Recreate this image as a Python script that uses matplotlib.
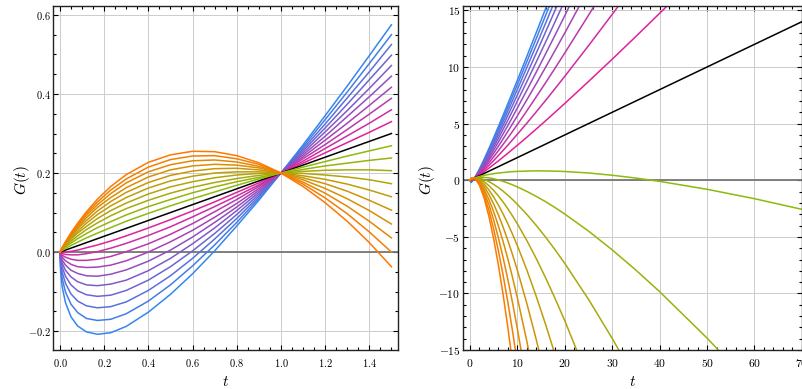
import matplotlib
matplotlib.use('Agg')
import matplotlib.pyplot as plt
from matplotlib.ticker import MultipleLocator, FormatStrFormatter

plt.rcParams['font.family'] = 'serif'
plt.rcParams['font.serif'] = ['cmr10', 'DejaVu Serif']
plt.rcParams['mathtext.fontset'] = 'cm'
plt.rcParams['axes.formatter.use_mathtext'] = True

# ---- left panel: short times ----
t_short = [0, 0.003, 0.01, 0.025, 0.05, 0.08, 0.12, 0.17, 0.23, 0.3, 0.4,
           0.5, 0.6, 0.7, 0.8, 0.9, 1.0, 1.1, 1.2, 1.3, 1.4, 1.5]

G_short = [
    [0, -0.051, -0.088, -0.128, -0.164, -0.187, -0.202, -0.208, -0.204, -0.188, -0.152, -0.107, -0.055, 0.003, 0.066, 0.131, 0.2, 0.271, 0.345, 0.420, 0.497, 0.575],
    [0, -0.037, -0.067, -0.101, -0.132, -0.153, -0.168, -0.173, -0.170, -0.156, -0.124, -0.083, -0.035, 0.018, 0.075, 0.136, 0.2, 0.266, 0.335, 0.405, 0.477, 0.550],
    [0, -0.027, -0.051, -0.079, -0.106, -0.124, -0.136, -0.141, -0.138, -0.126, -0.097, -0.060, -0.016, 0.033, 0.085, 0.141, 0.2, 0.261, 0.324, 0.390, 0.456, 0.525],
    [0, -0.019, -0.038, -0.061, -0.083, -0.098, -0.108, -0.112, -0.109, -0.097, -0.071, -0.037, 0.003, 0.047, 0.095, 0.146, 0.2, 0.256, 0.314, 0.374, 0.436, 0.498],
    [0, -0.014, -0.028, -0.046, -0.063, -0.075, -0.083, -0.085, -0.081, -0.071, -0.047, -0.016, 0.021, 0.061, 0.105, 0.151, 0.2, 0.251, 0.304, 0.358, 0.414, 0.472],
    [0, -0.009, -0.020, -0.033, -0.046, -0.054, -0.060, -0.061, -0.056, -0.045, -0.023, 0.005, 0.038, 0.075, 0.114, 0.156, 0.2, 0.246, 0.293, 0.343, 0.393, 0.445],
    [0, -0.006, -0.013, -0.022, -0.031, -0.037, -0.039, -0.038, -0.033, -0.022, -0.000, 0.026, 0.055, 0.088, 0.123, 0.161, 0.2, 0.241, 0.283, 0.326, 0.371, 0.417],
    [0, -0.004, -0.008, -0.013, -0.018, -0.021, -0.021, -0.018, -0.011, 0.001, 0.021, 0.045, 0.072, 0.102, 0.133, 0.166, 0.2, 0.236, 0.272, 0.310, 0.349, 0.389],
    [0, -0.002, -0.004, -0.006, -0.007, -0.007, -0.004, 0.001, 0.010, 0.022, 0.042, 0.064, 0.089, 0.115, 0.142, 0.170, 0.2, 0.230, 0.262, 0.294, 0.326, 0.360],
    [0, -0.000, -0.001, -0.000, 0.002, 0.005, 0.011, 0.018, 0.028, 0.041, 0.061, 0.082, 0.104, 0.127, 0.151, 0.175, 0.2, 0.225, 0.251, 0.277, 0.303, 0.330],
    [0, 0.0006, 0.002, 0.005, 0.010, 0.016, 0.024, 0.034, 0.046, 0.060, 0.080, 0.100, 0.120, 0.140, 0.160, 0.180, 0.2, 0.220, 0.240, 0.260, 0.280, 0.300],
    [0, 0.001, 0.004, 0.009, 0.017, 0.025, 0.036, 0.048, 0.062, 0.078, 0.098, 0.117, 0.135, 0.152, 0.169, 0.185, 0.2, 0.215, 0.229, 0.243, 0.256, 0.269],
    [0, 0.002, 0.006, 0.013, 0.023, 0.034, 0.047, 0.062, 0.077, 0.094, 0.115, 0.133, 0.150, 0.165, 0.178, 0.189, 0.2, 0.209, 0.218, 0.225, 0.232, 0.238],
    [0, 0.002, 0.007, 0.016, 0.028, 0.041, 0.057, 0.074, 0.092, 0.110, 0.131, 0.149, 0.164, 0.176, 0.186, 0.194, 0.2, 0.204, 0.207, 0.208, 0.208, 0.206],
    [0, 0.003, 0.008, 0.018, 0.033, 0.048, 0.065, 0.085, 0.105, 0.124, 0.147, 0.165, 0.178, 0.188, 0.195, 0.199, 0.2, 0.199, 0.195, 0.190, 0.183, 0.173],
    [0, 0.003, 0.009, 0.020, 0.036, 0.053, 0.073, 0.095, 0.117, 0.138, 0.162, 0.180, 0.192, 0.200, 0.203, 0.203, 0.2, 0.193, 0.184, 0.172, 0.157, 0.140],
    [0, 0.003, 0.009, 0.022, 0.040, 0.059, 0.080, 0.104, 0.128, 0.151, 0.176, 0.194, 0.205, 0.211, 0.212, 0.208, 0.2, 0.188, 0.173, 0.154, 0.131, 0.106],
    [0, 0.003, 0.010, 0.023, 0.042, 0.063, 0.087, 0.113, 0.138, 0.163, 0.190, 0.208, 0.218, 0.222, 0.220, 0.213, 0.2, 0.183, 0.161, 0.135, 0.105, 0.071],
    [0, 0.003, 0.010, 0.024, 0.045, 0.067, 0.093, 0.120, 0.148, 0.175, 0.203, 0.221, 0.231, 0.233, 0.228, 0.217, 0.2, 0.177, 0.149, 0.116, 0.078, 0.036],
    [0, 0.003, 0.011, 0.025, 0.047, 0.070, 0.098, 0.127, 0.157, 0.185, 0.215, 0.234, 0.243, 0.244, 0.236, 0.222, 0.2, 0.172, 0.137, 0.097, 0.051, -0.000],
    [0, 0.003, 0.011, 0.026, 0.049, 0.073, 0.102, 0.134, 0.166, 0.196, 0.227, 0.246, 0.255, 0.254, 0.244, 0.226, 0.2, 0.166, 0.125, 0.078, 0.024, -0.037],
]

# ---- right panel: long times (each curve stops once it leaves the frame) ----
t_long = [0, 0.25, 1, 2, 3, 4, 5, 6, 7, 8, 9, 10, 12, 14, 16, 18, 20,
          25, 30, 35, 40, 50, 60, 70]

G_long = [
    [0, -0.2, 0.2, 0.99, 1.87, 2.8, 3.76, 4.75, 5.75, 6.77, 7.8, 8.84, 10.94, 13.06, 15.2, 17.36],
    [0, -0.17, 0.2, 0.94, 1.77, 2.66, 3.58, 4.52, 5.48, 6.46, 7.45, 8.45, 10.48, 12.53, 14.61, 16.7],
    [0, -0.14, 0.2, 0.88, 1.67, 2.5, 3.37, 4.27, 5.19, 6.12, 7.06, 8.02, 9.96, 11.93, 13.92, 15.94],
    [0, -0.11, 0.2, 0.83, 1.56, 2.34, 3.15, 4.0, 4.86, 5.74, 6.63, 7.53, 9.37, 11.24, 13.14, 15.06, 16.99],
    [0, -0.08, 0.2, 0.78, 1.44, 2.16, 2.91, 3.7, 4.5, 5.31, 6.14, 6.99, 8.71, 10.46, 12.24, 14.04, 15.86],
    [0, -0.05, 0.2, 0.72, 1.32, 1.97, 2.66, 3.37, 4.1, 4.84, 5.6, 6.38, 7.95, 9.56, 11.2, 12.86, 14.54, 18.82],
    [0, -0.03, 0.2, 0.66, 1.19, 1.77, 2.38, 3.01, 3.66, 4.32, 5.0, 5.69, 7.1, 8.54, 10.01, 11.5, 13.01, 16.87],
    [0, -0.01, 0.2, 0.6, 1.06, 1.55, 2.07, 2.61, 3.17, 3.74, 4.33, 4.92, 6.13, 7.38, 8.64, 9.93, 11.24, 14.57, 17.99],
    [0, 0.01, 0.2, 0.53, 0.91, 1.32, 1.74, 2.18, 2.64, 3.1, 3.58, 4.06, 5.04, 6.05, 7.07, 8.12, 9.18, 11.88, 14.65, 17.47],
    [0, 0.03, 0.2, 0.47, 0.76, 1.07, 1.39, 1.71, 2.05, 2.39, 2.74, 3.09, 3.8, 4.53, 5.27, 6.02, 6.78, 8.72, 10.69, 12.7, 14.74, 18.88],
    [0, 0.05, 0.2, 0.4, 0.6, 0.8, 1.0, 1.2, 1.4, 1.6, 1.8, 2.0, 2.4, 2.8, 3.2, 3.6, 4.0, 5.0, 6.0, 7.0, 8.0, 10.0, 12.0, 14.0],
    [0, 0.07, 0.2, 0.33, 0.43, 0.51, 0.58, 0.64, 0.68, 0.72, 0.76, 0.78, 0.81, 0.83, 0.82, 0.8, 0.77, 0.64, 0.44, 0.19, -0.1, -0.8, -1.63, -2.57],
    [0, 0.08, 0.2, 0.26, 0.25, 0.21, 0.13, 0.02, -0.1, -0.25, -0.41, -0.59, -0.99, -1.43, -1.91, -2.43, -2.99, -4.49, -6.15, -7.94, -9.84, -13.94, -18.36],
    [0, 0.1, 0.2, 0.18, 0.06, -0.12, -0.37, -0.65, -0.97, -1.33, -1.71, -2.13, -3.02, -4.0, -5.05, -6.17, -7.35, -10.52, -13.97, -17.66],
    [0, 0.11, 0.2, 0.1, -0.14, -0.48, -0.9, -1.39, -1.93, -2.53, -3.17, -3.85, -5.33, -6.93, -8.66, -10.49, -12.41, -17.59],
    [0, 0.12, 0.2, 0.02, -0.35, -0.86, -1.48, -2.19, -2.99, -3.85, -4.79, -5.78, -7.93, -10.28, -12.8, -15.48],
    [0, 0.14, 0.2, -0.06, -0.57, -1.26, -2.1, -3.07, -4.15, -5.33, -6.6, -7.95, -10.89, -14.1, -17.56],
    [0, 0.15, 0.2, -0.15, -0.81, -1.7, -2.78, -4.03, -5.43, -6.96, -8.62, -10.39, -14.23, -18.46],
    [0, 0.16, 0.2, -0.24, -1.06, -2.16, -3.52, -5.09, -6.85, -8.78, -10.87, -13.12, -18.02],
    [0, 0.17, 0.2, -0.33, -1.32, -2.66, -4.32, -6.24, -8.4, -10.79, -13.39, -16.18],
    [0, 0.18, 0.2, -0.43, -1.6, -3.2, -5.18, -7.5, -10.12, -13.03, -16.2],
]

n_half = len(G_short) // 2   # index of the black reference line


def mix(c1, c2, f):
    return tuple(a + (b - a) * f for a, b in zip(c1, c2))


blue, magenta = (0.20, 0.53, 0.94), (0.88, 0.13, 0.60)
green, orange = (0.55, 0.73, 0.05), (1.00, 0.47, 0.00)
colors = []
for k in range(len(G_short)):
    if k < n_half:
        colors.append(mix(blue, magenta, k / (n_half - 1)))
    elif k == n_half:
        colors.append('black')
    else:
        colors.append(mix(green, orange, (k - n_half - 1) / (n_half - 1)))


def style(ax, xmaj, xmin, ymaj, ymin):
    ax.xaxis.set_major_locator(MultipleLocator(xmaj))
    ax.xaxis.set_minor_locator(MultipleLocator(xmin))
    ax.yaxis.set_major_locator(MultipleLocator(ymaj))
    ax.yaxis.set_minor_locator(MultipleLocator(ymin))
    ax.tick_params(which='both', direction='in', top=True, right=True,
                   width=0.8, color='black')
    ax.tick_params(which='major', length=3.5)
    ax.tick_params(which='minor', length=2)
    ax.tick_params(axis='x', pad=5)
    ax.tick_params(axis='y', pad=2)
    ax.grid(True, which='major', color='#cccccc', lw=0.7)
    ax.set_axisbelow(True)
    ax.axhline(0, color='#777777', lw=1.3, zorder=1.5)
    for sp in ax.spines.values():
        sp.set_linewidth(1.0)
        sp.set_color('#222222')


fig = plt.figure(figsize=(8.02, 3.89), dpi=100)
axL = fig.add_axes([0.0665, 0.1, 0.4298, 0.885])
axR = fig.add_axes([0.5777, 0.1, 0.4222, 0.885])

for k, G in enumerate(G_short):
    axL.plot(t_short, G, color=colors[k], lw=1.1, solid_joinstyle='round')
for k, G in enumerate(G_long):
    axR.plot(t_long[:len(G)], G, color=colors[k], lw=1.1,
             solid_joinstyle='round')

style(axL, 0.2, 0.05, 0.2, 0.05)
axL.set_xlim(-0.03, 1.53)
axL.set_ylim(-0.248, 0.623)
axL.xaxis.set_major_formatter(FormatStrFormatter(r'$%.1f$'))
axL.yaxis.set_major_formatter(FormatStrFormatter(r'$%.1f$'))
axL.tick_params(labelsize=7.5)

style(axR, 10, 2, 5, 1)
axR.set_xlim(-1.4, 70)
axR.set_ylim(-15, 15.4)
axR.tick_params(labelsize=8.3)

for ax in (axL, axR):
    ax.set_xlabel(r'$t$', fontsize=11)
    ax.set_ylabel(r'$G(t)$', fontsize=11)
    ax.xaxis.label.set_va('center')
    ax.yaxis.label.set_va('center')
    ax.xaxis.set_label_coords(0.5, -0.092)
axL.yaxis.set_label_coords(-0.091, 0.493)
axR.yaxis.set_label_coords(-0.107, 0.493)

fig.savefig('out.png', dpi=100)
